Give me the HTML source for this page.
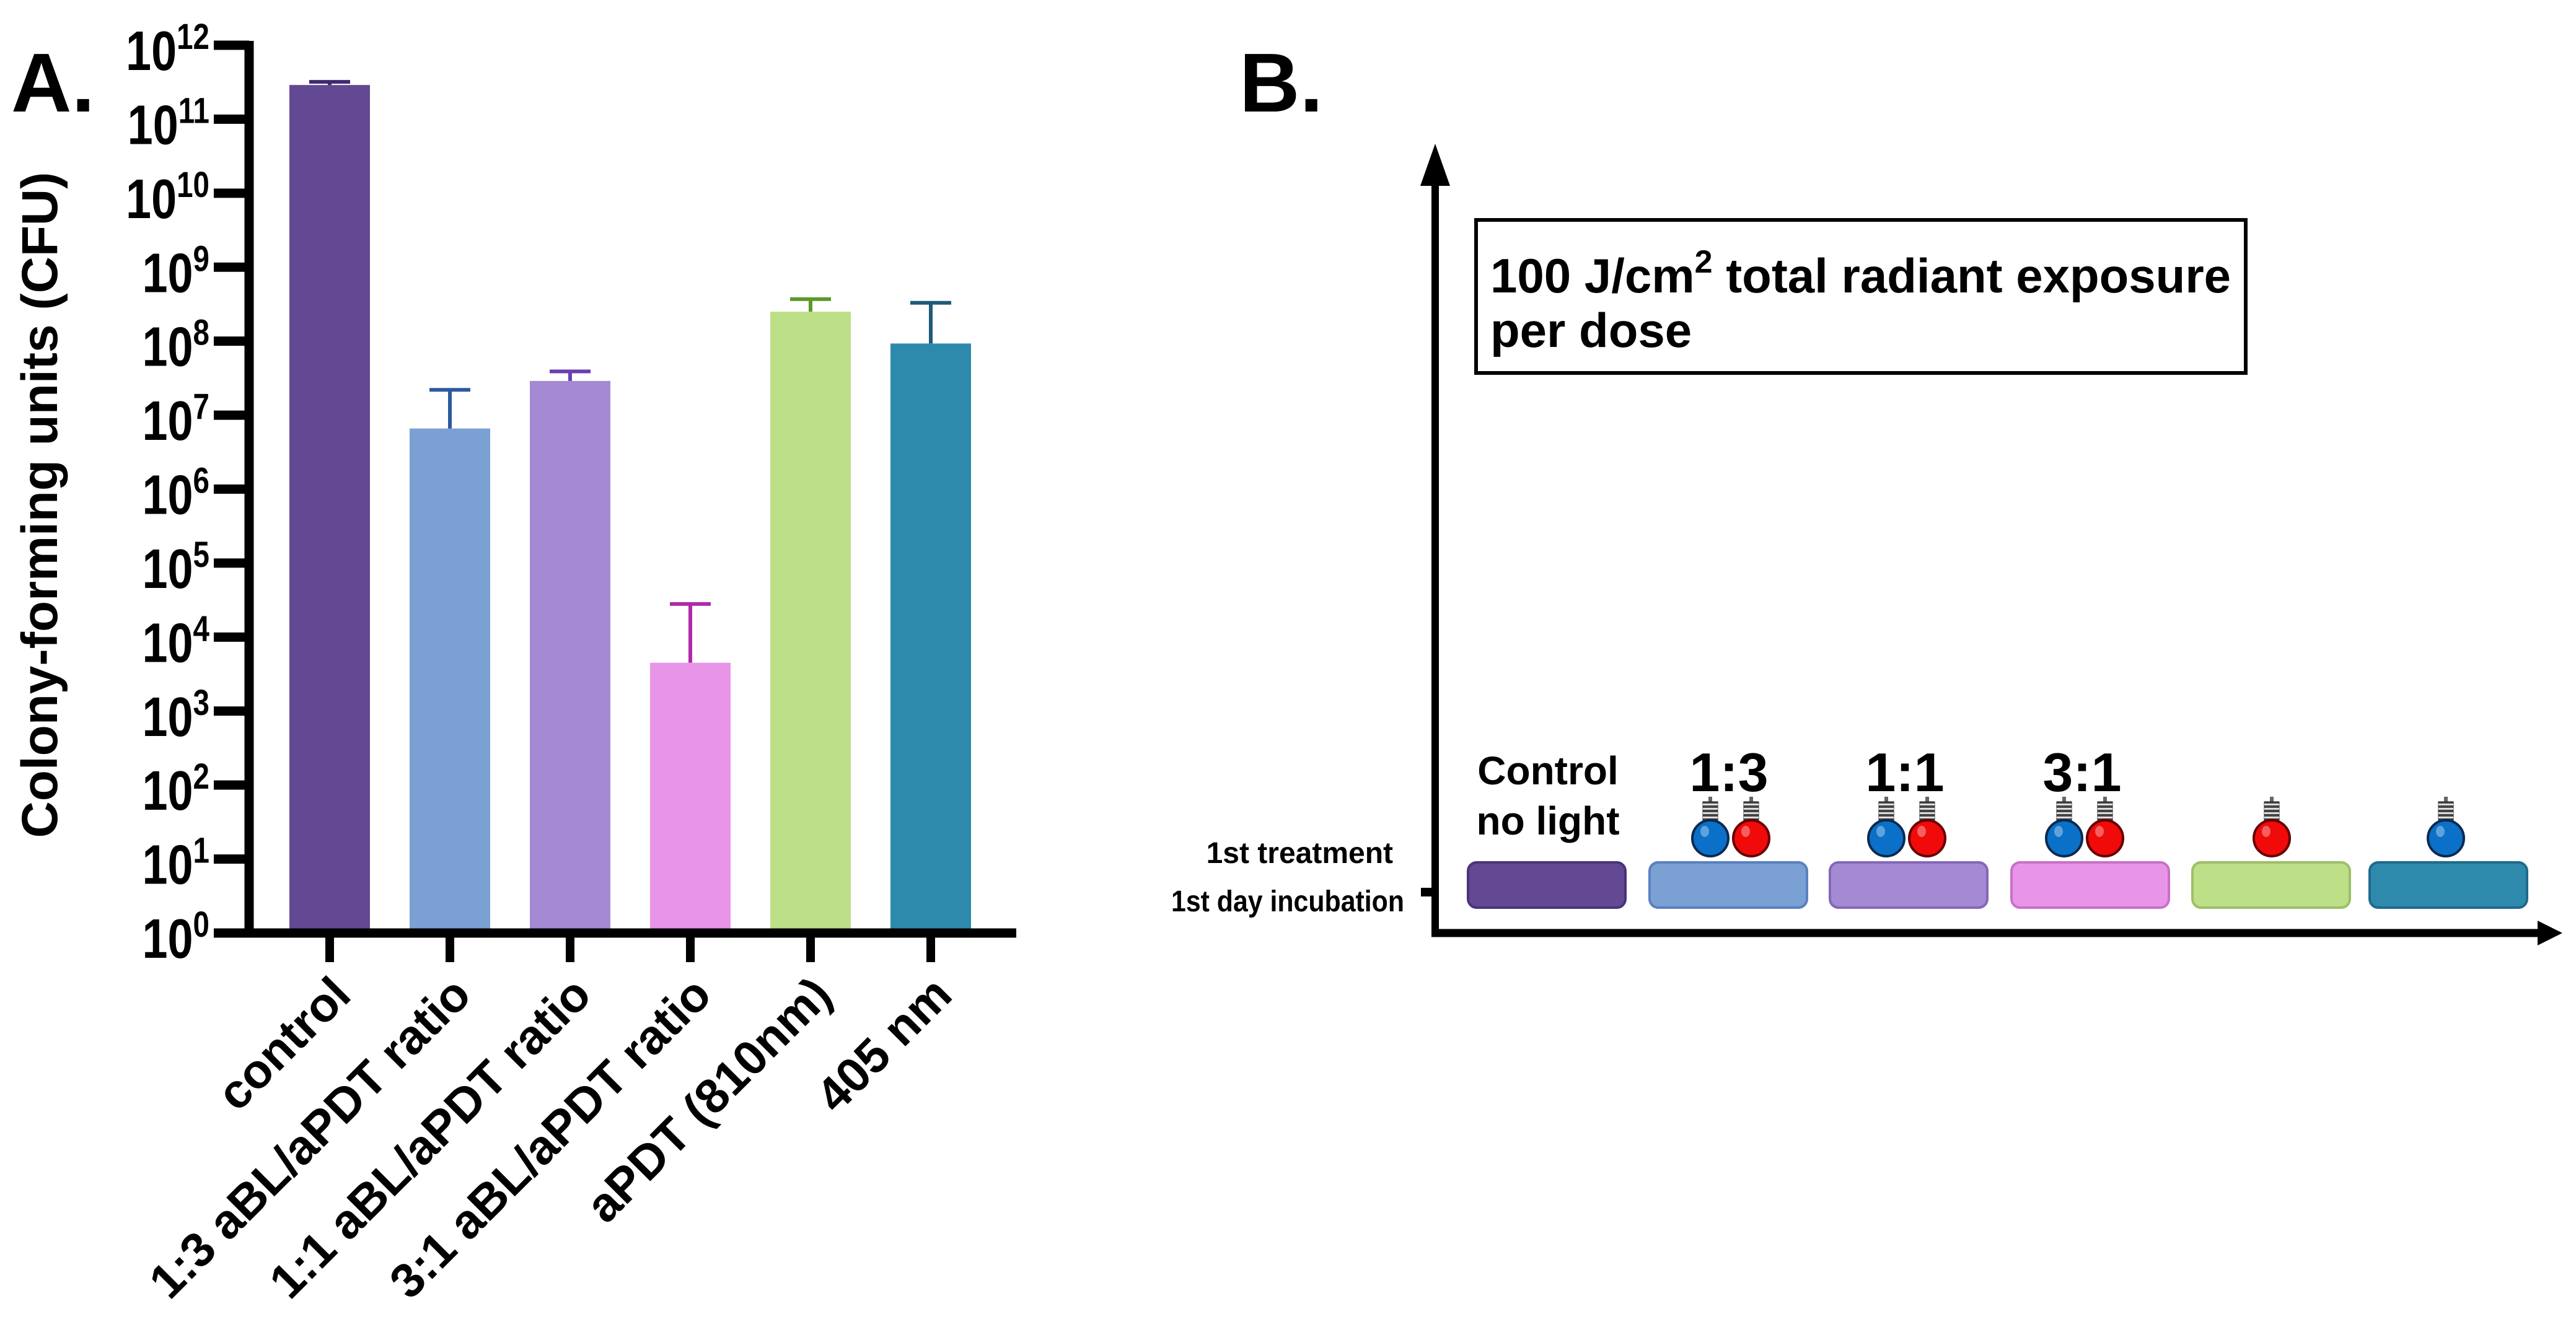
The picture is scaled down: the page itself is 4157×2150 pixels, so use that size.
<!DOCTYPE html>
<html><head><meta charset="utf-8">
<style>
html,body{margin:0;padding:0;background:#fff;}
svg{display:block;font-family:"Liberation Sans",Arial,sans-serif;font-weight:bold;}
</style></head>
<body>
<svg id="fig" width="4157" height="2150" viewBox="0 0 4157 2150" xmlns="http://www.w3.org/2000/svg">
  <rect width="4157" height="2150" fill="#fff"/>
  <text x="18" y="180" font-size="135">A.</text>
  <text x="2000" y="180" font-size="135">B.</text>
  <g id="chartA"></g>
  <g id="panelB"></g>
</svg>
<script>
const categories = ["control","1:3 aBL/aPDT ratio","1:1 aBL/aPDT ratio","3:1 aBL/aPDT ratio","aPDT (810nm)","405 nm"];
const means = [2.9e11, 6.6e6, 2.9e7, 4.5e3, 2.5e8, 9.3e7];
const errTops = [3.2e11, 2.2e7, 3.9e7, 2.8e4, 3.7e8, 3.3e8];
const yTickExps = [0,1,2,3,4,5,6,7,8,9,10,11,12];
const barColors = ["#634894","#7ba0d4","#a48ad2","#e895e8","#bddf87","#2e8aac"];
const errColors = ["#3f2a6e","#2c5aa0","#6a3fb0","#b02aa8","#5a9a2a","#1f5a78"];

const NS="http://www.w3.org/2000/svg";
function mk(tag, attrs, parent, txt){
  const e=document.createElementNS(NS,tag);
  for(const k in attrs) e.setAttribute(k,attrs[k]);
  if(txt!==undefined) e.textContent=txt;
  parent.appendChild(e); return e;
}
const g=document.getElementById('chartA');
const axX=402, y0=1506, y12=73, decade=(y0-y12)/12;
const yScale=v=>y0-Math.log10(v)*decade;
const xC=i=>532+i*194;
const barW=130;

// y axis label
let t=mk('text',{x:0,y:0,'font-size':82,'text-anchor':'middle',transform:'translate(92,815) rotate(-90)'},g,'Colony-forming units (CFU)');



// bars
categories.forEach((c,i)=>{
  const top=yScale(means[i]);
  const b=mk('rect',{x:xC(i)-barW/2,y:top,width:barW,height:y0-top,fill:barColors[i]},g);
  
  
  const et=yScale(errTops[i]);
  const e=mk('path',{d:`M${xC(i)},${top} V${et} M${xC(i)-33},${et} H${xC(i)+33}`,stroke:errColors[i],'stroke-width':6,fill:'none'},g);
  
  
  const tk=mk('line',{x1:xC(i),y1:y0,x2:xC(i),y2:1553,stroke:'#000','stroke-width':14},g);
  
  
  const lb=mk('text',{x:0,y:0,'font-size':78,'text-anchor':'end',transform:`translate(${xC(i)+38},1610) rotate(-45)`},g,c);
  
  
});

// axes
let ax=mk('line',{x1:axX,y1:y12-7,x2:axX,y2:y0+7,stroke:'#000','stroke-width':15},g);


ax=mk('line',{x1:345,y1:y0,x2:1640,y2:y0,stroke:'#000','stroke-width':15},g);



yTickExps.forEach(p=>{
  const y=yScale(Math.pow(10,p));
  const tk=mk('line',{x1:345,y1:y,x2:axX,y2:y,stroke:'#000','stroke-width':15},g);
  
  
  const tl=mk('text',{x:0,y:0,'font-size':90,'text-anchor':'end',transform:`translate(338,${y+40}) scale(0.82,1)`},g);
  
  
  mk('tspan',{},tl,'10');
  mk('tspan',{'font-size':58,dy:-34},tl,String(p));
});

// Panel B
const B=document.getElementById('panelB');
const boxColors=["#634894","#7ba0d4","#a48ad2","#e895e8","#bddf87","#2e8aac"];
const boxEdge=["#4a3378","#5a80c0","#8468b8","#c870c8","#9cc068","#1f6a8c"];
const boxX=[2369,2662,2953,3246,3538,3824];
let e;
e=mk('line',{x1:2316,y1:290,x2:2316,y2:1512,stroke:'#000','stroke-width':12},B);


e=mk('polygon',{points:'2316,232 2292,300 2340,300',fill:'#000'},B);


e=mk('line',{x1:2310,y1:1506,x2:4100,y2:1506,stroke:'#000','stroke-width':13},B);


e=mk('polygon',{points:'4135,1506 4095,1486 4095,1526',fill:'#000'},B);


e=mk('line',{x1:2293,y1:1440,x2:2316,y2:1440,stroke:'#000','stroke-width':14},B);



e=mk('rect',{x:2382,y:355,width:1242,height:247,fill:'#fff',stroke:'#000','stroke-width':6},B);


e=mk('text',{x:2405,y:472,'font-size':78},B);


mk('tspan',{},e,'100 J/cm');
mk('tspan',{'font-size':52,dy:-32},e,'2');
mk('tspan',{dy:32},e,' total radiant exposure');
e=mk('text',{x:2405,y:560,'font-size':78},B,'per dose');



e=mk('text',{x:2248,y:1393,'font-size':48,'text-anchor':'end'},B,'1st treatment');


e=mk('text',{x:2266,y:1471,'font-size':48,'text-anchor':'end',textLength:376,lengthAdjust:'spacingAndGlyphs'},B,'1st day incubation');



boxX.forEach((x,i)=>{
  const r=mk('rect',{x:x,y:1392,width:254,height:73,rx:14,fill:boxColors[i],stroke:boxEdge[i],'stroke-width':4},B);
  
  
});

e=mk('text',{x:2498,y:1266,'font-size':64,'text-anchor':'middle'},B,'Control');


e=mk('text',{x:2498,y:1347,'font-size':64,'text-anchor':'middle'},B,'no light');


[["1:3",2790],["1:1",3074],["3:1",3360]].forEach(([s,x])=>{
  const tt=mk('text',{x:x,y:1277,'font-size':88,'text-anchor':'middle'},B,s);
  
  
});

function bulb(cx,color,dark){
  const gg=mk('g',{},B);
  
  
  mk('rect',{x:cx-3,y:1286,width:6,height:10,fill:'#666'},gg);
  mk('rect',{x:cx-12,y:1294,width:24,height:36,fill:'#444',stroke:'#222','stroke-width':1},gg);
  for(let k=0;k<5;k++) mk('rect',{x:cx-12,y:1297+k*7,width:24,height:3,fill:'#ddd'},gg);
  mk('circle',{cx:cx,cy:1353,r:29,fill:color,stroke:dark,'stroke-width':4},gg);
  mk('ellipse',{cx:cx-9,cy:1342,rx:7,ry:9,fill:'#fff',opacity:0.35},gg);
}
const blue="#0a70c8", red="#f00a0a";
bulb(2760,blue,"#0a2a50"); bulb(2826,red,"#600");
bulb(3044,blue,"#0a2a50"); bulb(3110,red,"#600");
bulb(3331,blue,"#0a2a50"); bulb(3397,red,"#600");
bulb(3666,red,"#600");
bulb(3947,blue,"#0a2a50");
</script>
</body></html>
